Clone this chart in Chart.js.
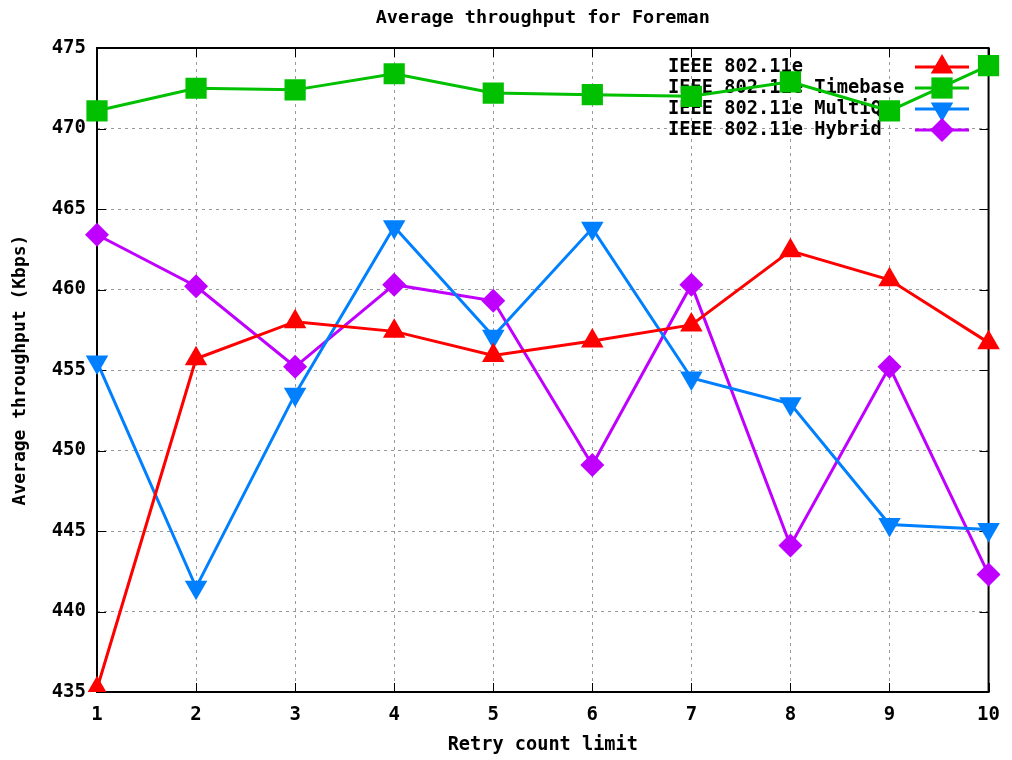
<!DOCTYPE html>
<html>
<head>
<meta charset="utf-8">
<script src="https://cdn.jsdelivr.net/npm/chart.js@4.4.0/dist/chart.umd.min.js"></script>
<style>
  body { margin: 0; background: #fff; }
  #wrap { width: 1012px; height: 760px; }
</style>
</head>
<body>
<div id="wrap"><canvas id="chart" width="1012" height="760"></canvas></div>
<script>
// values
const retryLimits = ['1', '2', '3', '4', '5', '6', '7', '8', '9', '10'];
const edca     = [435.2, 455.7, 458.0, 457.4, 455.9, 456.8, 457.8, 462.4, 460.6, 456.7];
const timebase = [471.1, 472.5, 472.4, 473.4, 472.2, 472.1, 472.0, 472.9, 471.1, 473.9];
const multiQ   = [455.5, 441.5, 453.5, 463.9, 457.1, 463.8, 454.5, 452.9, 445.4, 445.1];
const hybrid   = [463.4, 460.2, 455.2, 460.3, 459.3, 449.1, 460.3, 444.1, 455.2, 442.3];
const seriesNames = ['IEEE 802.11e', 'IEEE 802.11e Timebase', 'IEEE 802.11e MultiQ', 'IEEE 802.11e Hybrid'];
const yTicks = [435, 440, 445, 450, 455, 460, 465, 470, 475];

const FONT = 'DejaVu Sans Mono';
const titleText = 'Average throughput for Foreman';

function series(label, data, color, style, radius, rotation) {
  return {
    label: label,
    data: data,
    borderColor: color,
    backgroundColor: color,
    borderWidth: 3,
    pointStyle: style,
    pointRadius: radius,
    pointRotation: rotation,
    pointBorderWidth: 0,
    tension: 0
  };
}

// frame, inward ticks, title, legend drawn like gnuplot does
const gnuplotBits = {
  id: 'gnuplotBits',
  beforeDatasetsDraw(chart) {
    const ctx = chart.ctx;
    const a = chart.chartArea;
    ctx.save();
    // inward tick marks on all four sides
    ctx.strokeStyle = '#000';
    ctx.lineWidth = 1;
    const xs = chart.scales.x, ys = chart.scales.y;
    xs.ticks.forEach((t, i) => {
      const px = Math.round(xs.getPixelForTick(i)) + 0.5;
      ctx.beginPath();
      ctx.moveTo(px, a.bottom); ctx.lineTo(px, a.bottom - 9);
      ctx.moveTo(px, a.top); ctx.lineTo(px, a.top + 9);
      ctx.stroke();
    });
    ys.ticks.forEach((t, i) => {
      const py = Math.round(ys.getPixelForTick(i)) + 0.5;
      ctx.beginPath();
      ctx.moveTo(a.left, py); ctx.lineTo(a.left + 9, py);
      ctx.moveTo(a.right, py); ctx.lineTo(a.right - 9, py);
      ctx.stroke();
    });
    ctx.strokeStyle = '#000';
    ctx.lineWidth = 2;
    ctx.strokeRect(a.left, a.top, a.right - a.left, a.bottom - a.top);

    // title
    ctx.fillStyle = '#000';
    ctx.font = 'bold 18.5px "' + FONT + '"';
    ctx.textAlign = 'center';
    ctx.textBaseline = 'middle';
    ctx.fillText(titleText, (a.left + a.right) / 2, 18);

    // legend
    ctx.font = 'bold 18.7px "' + FONT + '"';
    ctx.textAlign = 'left';
    chart.data.datasets.forEach((ds, i) => {
      const y = 67 + i * 21;
      ctx.fillStyle = '#000';
      ctx.fillText(ds.label, 668, y);
      ctx.strokeStyle = ds.borderColor;
      ctx.lineWidth = 3;
      ctx.beginPath();
      ctx.moveTo(915, y); ctx.lineTo(969, y);
      ctx.stroke();
      ctx.fillStyle = ds.backgroundColor;
      Chart.helpers.drawPoint(ctx, {
        pointStyle: ds.pointStyle, radius: ds.pointRadius,
        rotation: ds.pointRotation, borderWidth: 0
      }, 942, y);
    });
    ctx.restore();
  }
};

new Chart(document.getElementById('chart').getContext('2d'), {
  type: 'line',
  data: {
    labels: retryLimits,
    datasets: [
      series(seriesNames[0], edca, '#ff0000', 'triangle', 13, 0),
      series(seriesNames[1], timebase, '#00c000', 'rect', 15, 0),
      series(seriesNames[2], multiQ, '#0080ff', 'triangle', 13, 180),
      series(seriesNames[3], hybrid, '#c000ff', 'rectRot', 12, 0)
    ]
  },
  options: {
    responsive: false,
    animation: false,
    layout: { padding: { top: 48, right: 23, left: 0, bottom: 0 } },
    plugins: {
      legend: { display: false },
      title: { display: false },
      tooltip: { enabled: false }
    },
    scales: {
      x: {
        type: 'category',
        offset: false,
        grid: { color: '#999999', lineWidth: 1, drawTicks: false },
        border: { display: false, dash: [3, 4] },
        ticks: { color: '#000', font: { family: FONT, size: 19, weight: 'bold' }, padding: 12, maxRotation: 0, autoSkip: false },
        title: { display: true, text: 'Retry count limit', color: '#000', font: { family: FONT, size: 18.6, weight: 'bold' }, padding: { top: 0, bottom: 4 } },
        afterFit(scale) { scale.height = 68; }
      },
      y: {
        min: 435,
        max: 475,
        afterBuildTicks(scale) { scale.ticks = yTicks.map(v => ({ value: v })); },
        grid: { color: '#999999', lineWidth: 1, drawTicks: false },
        border: { display: false, dash: [3, 4] },
        ticks: { color: '#000', font: { family: FONT, size: 19, weight: 'bold' }, padding: 11 },
        title: { display: true, text: 'Average throughput (Kbps)', color: '#000', font: { family: FONT, size: 18, weight: 'bold' }, padding: { top: 10, bottom: 0 } },
        afterFit(scale) { scale.width = 97; }
      }
    }
  },
  plugins: [gnuplotBits]
});
</script>
</body>
</html>
